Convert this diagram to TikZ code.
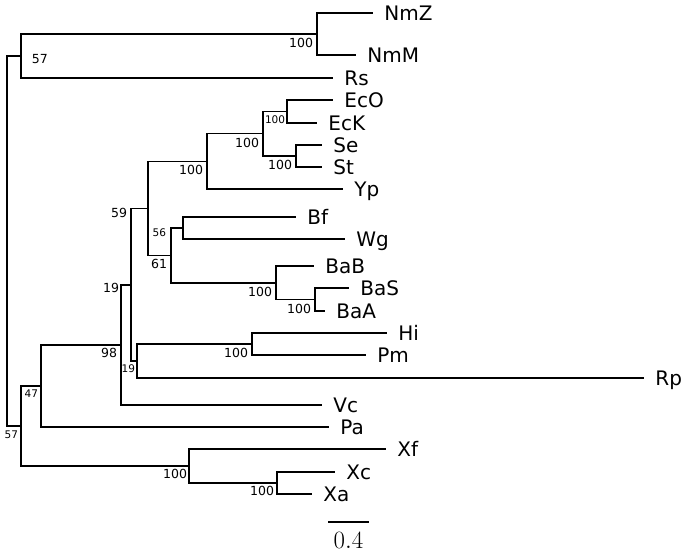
\documentclass[tikz,border=0pt]{standalone}
\usepackage{fontspec}
\setsansfont{DejaVu Sans}
\usepackage{tikz}
\usetikzlibrary{positioning}
\tikzset{
    %Define style for taxon labels
    taxon/.style={
           anchor=west,
           inner xsep=10.5pt,
           inner ysep=0pt,
           text height=14.6pt,
           text depth=0pt,
           font=\sffamily\fontsize{20}{24}\selectfont},
    %Define style for support values
    boot/.style={
           anchor=north east,
           inner sep=0pt,
           font=\sffamily\fontsize{12.5}{14}\selectfont},
    smallboot/.style={
           boot,
           font=\sffamily\fontsize{10.5}{12}\selectfont},
    % Define branch style
    br/.style={
           to path={|- (\tikztotarget)}}
}

\begin{document}
\begin{tikzpicture}[x=1pt,y=-1pt,line width=1.8pt]
\useasboundingbox (0,0) rectangle (685,554);

% internal nodes
\coordinate (1) at (7,241);
\coordinate (2) at (21,56);
\coordinate (3) at (317,34);
\coordinate (4) at (21,426);
\coordinate (5) at (41,386);
\coordinate (6) at (121,345);
\coordinate (7) at (131,285);
\coordinate (8) at (148,208.5);
\coordinate (9) at (207,161.5);
\coordinate (10) at (263,133.5);
\coordinate (11) at (287,111.5);
\coordinate (12) at (296,156);
\coordinate (13) at (171,255.5);
\coordinate (14) at (183,228);
\coordinate (15) at (276,283);
\coordinate (16) at (315,299.5);
\coordinate (17) at (137,361);
\coordinate (18) at (252,344);
\coordinate (19) at (189,466);
\coordinate (20) at (277,483);

% leaves
\node[taxon] (NmZ) at (373,13) {NmZ};
\node[taxon] (NmM) at (356,55) {NmM};
\node[taxon] (Rs) at (333,78) {Rs};
\node[taxon] (EcO) at (333,100) {EcO};
\node[taxon] (EcK) at (317,123) {EcK};
\node[taxon] (Se) at (322,145) {Se};
\node[taxon] (St) at (322,167) {St};
\node[taxon] (Yp) at (343,189) {Yp};
\node[taxon] (Bf) at (296,217) {Bf};
\node[taxon] (Wg) at (345,239) {Wg};
\node[taxon] (BaB) at (314,266) {BaB};
\node[taxon] (BaS) at (349,288) {BaS};
\node[taxon] (BaA) at (325,311) {BaA};
\node[taxon] (Hi) at (387,333) {Hi};
\node[taxon] (Pm) at (366,355) {Pm};
\node[taxon] (Rp) at (644,378) {Rp};
\node[taxon] (Vc) at (322,405) {Vc};
\node[taxon] (Pa) at (329,427) {Pa};
\node[taxon] (Xf) at (386,449) {Xf};
\node[taxon] (Xc) at (335,472) {Xc};
\node[taxon] (Xa) at (312,494) {Xa};

\path[br]
    (1) edge (2) edge (4)
    (2) edge (3) edge (Rs)
    (3) edge (NmZ) edge (NmM)
    (4) edge (5) edge (19)
    (5) edge (6) edge (Pa)
    (6) edge (7) edge (Vc)
    (7) edge (8) edge (17)
    (8) edge (9) edge (13)
    (9) edge (10) edge (Yp)
    (10) edge (11) edge (12)
    (11) edge (EcO) edge (EcK)
    (12) edge (Se) edge (St)
    (13) edge (14) edge (15)
    (14) edge (Bf) edge (Wg)
    (15) edge (BaB) edge (16)
    (16) edge (BaS) edge (BaA)
    (17) edge (18) edge (Rp)
    (18) edge (Hi) edge (Pm)
    (19) edge (Xf) edge (20)
    (20) edge (Xc) edge (Xa);

% support values
\node[boot,anchor=west] (b2) at (31,59) {57};
\node[boot] (b3) at (314,37) {100};
\node[smallboot] (b4) at (19,430) {57};
\node[smallboot] (b5) at (39,389) {47};
\node[boot] (b6) at (118,347) {98};
\node[boot] (b7) at (120,282) {19};
\node[boot] (b8) at (128,207) {59};
\node[boot] (b9) at (204,164) {100};
\node[boot] (b10) at (260,137) {100};
\node[smallboot] (b11) at (286,115) {100};
\node[boot] (b12) at (293,159) {100};
\node[boot] (b13) at (168,258) {61};
\node[smallboot] (b14) at (167,228) {56};
\node[boot] (b15) at (273,286) {100};
\node[boot] (b16) at (312,303) {100};
\node[smallboot] (b17) at (136,364) {19};
\node[boot] (b18) at (249,347) {100};
\node[boot] (b19) at (188,468) {100};
\node[boot] (b20) at (275,485) {100};

% scale bar
\coordinate (s1) at (328,522);
\coordinate (s2) at (369,522);
\draw (s1) -- (s2);
\node[font=\fontsize{24}{28}\selectfont] (sl) at (348.5,540) {$0.4$};
\end{tikzpicture}
\end{document}
